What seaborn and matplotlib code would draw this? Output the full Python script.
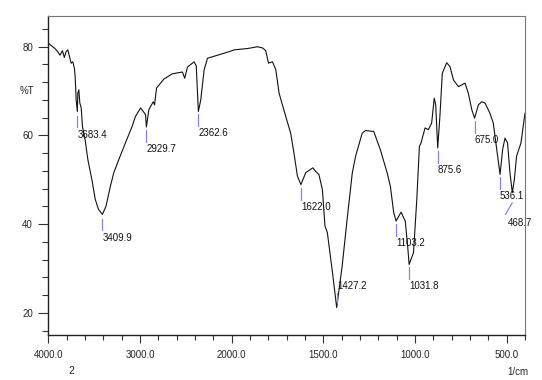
import numpy as np
import matplotlib
matplotlib.use("Agg")
import matplotlib.pyplot as plt
import matplotlib.transforms as mtransforms
from matplotlib.ticker import FixedLocator, NullFormatter
from matplotlib import font_manager
import seaborn as sns
import pandas as pd

# =========================
# Datos leidos del espectro (numero de onda en 1/cm, %T)
# =========================
wavenumber = [
    4000, 3927, 3897, 3872, 3846, 3825, 3806, 3787, 3773, 3751, 3732, 3715,
    3707, 3696, 3683, 3678, 3667, 3656, 3641, 3627, 3598, 3568, 3524, 3488,
    3452, 3410, 3371, 3323, 3287, 3232, 3159, 3086, 3049, 2993, 2939, 2930,
    2903, 2885, 2855, 2841, 2819, 2739, 2647, 2537, 2512, 2482, 2410, 2386,
    2363, 2337, 2300, 2263, 2153, 2026, 1986, 1913, 1859, 1830, 1814, 1799,
    1777, 1759, 1741, 1705, 1678, 1660, 1641, 1622, 1596, 1557, 1542, 1524,
    1505, 1491, 1478, 1450, 1427, 1397, 1370, 1342, 1324, 1288, 1270, 1225,
    1189, 1152, 1134, 1116, 1103, 1076, 1053, 1040, 1032, 1008, 990, 976,
    967, 945, 927, 909, 895, 887, 876, 864, 851, 827, 809, 790, 763, 727,
    709, 690, 675, 654, 636, 618, 591, 573, 554, 536, 522, 509, 495, 482,
    469, 458, 446, 422, 400,
]
transmittance = [
    80.8, 79.6, 78.9, 78.1, 79.1, 77.6, 78.9, 79.3, 78.1, 76.3, 76.6, 75.1,
    73.3, 68.0, 65.4, 69.5, 70.3, 67.3, 66.2, 62.0, 59.0, 54.5, 50.0, 45.6,
    43.3, 42.2, 44.0, 48.5, 51.5, 54.5, 58.3, 62.0, 64.3, 66.2, 64.7, 61.9,
    65.8, 66.5, 67.6, 66.9, 70.7, 72.7, 73.9, 74.3, 72.9, 75.4, 76.6, 75.7,
    65.4, 68.0, 74.8, 77.4, 78.1, 78.9, 79.3, 79.6, 80.0, 79.7, 79.1, 76.3,
    76.6, 74.8, 69.5, 64.3, 60.5, 56.0, 50.8, 48.9, 51.6, 52.7, 51.9, 51.2,
    47.8, 39.6, 38.1, 29.1, 21.2, 30.6, 41.1, 51.5, 55.3, 60.5, 61.1, 60.9,
    56.8, 51.6, 48.5, 42.6, 40.7, 42.7, 40.7, 35.1, 30.9, 33.6, 45.6, 57.5,
    58.3, 61.7, 61.3, 62.8, 68.4, 66.9, 57.2, 64.3, 74.0, 76.4, 75.5, 72.5,
    71.0, 71.8, 69.5, 65.8, 63.9, 66.9, 67.6, 67.3, 65.0, 62.8, 56.8, 51.2,
    56.8, 59.4, 58.3, 51.6, 47.1, 50.0, 55.3, 58.3, 65.0,
]

# Picos marcados
peak_labels = ["3683.4", "3409.9", "2929.7", "2362.6", "1622.0", "1427.2",
               "1103.2", "1031.8", "875.6", "675.0", "536.1", "468.7"]
peak_wn = [3683, 3410, 2930, 2363, 1622, 1427, 1103, 1032, 876, 675, 536, 469]
peak_t = [65.4, 42.2, 61.9, 65.4, 48.9, 21.2, 40.7, 30.9, 57.2, 63.9, 51.2, 47.1]

x_major = [4000, 3000, 2000, 1500, 1000, 500]
x_major_labels = ["4000.0", "3000.0", "2000.0", "1500.0", "1000.0", "500.0"]
y_major = [20, 40, 60, 80]
y_major_labels = ["20", "40", "60", "80"]

df = pd.DataFrame({"wn": wavenumber, "T": transmittance})

# =========================
# Estilo
# =========================
sns.set_theme(style="ticks")
names = {f.name for f in font_manager.fontManager.ttflist}
fam = ["Liberation Sans Narrow"] if "Liberation Sans Narrow" in names else ["Liberation Sans"]
plt.rcParams["font.family"] = fam + ["DejaVu Sans"]
FS = 7


# escala del eje x: por debajo de 2000 1/cm el doble de ancha
def fwd(x):
    x = np.asarray(x, dtype=float)
    return np.where(x < 2000, x, 2000 + (x - 2000) / 2.0)


def inv(s):
    s = np.asarray(s, dtype=float)
    return np.where(s < 2000, s, 2000 + (s - 2000) * 2.0)


fig = plt.figure(figsize=(5.42, 3.80), dpi=100)
ax = fig.add_axes([0.0891, 0.1184, 0.8795, 0.8403])
ax.set_xscale("function", functions=(fwd, inv))

sns.lineplot(data=df, x="wn", y="T", ax=ax, color="#111111", linewidth=0.8,
             estimator=None, sort=False)

ax.set_xlim(4000, 400)
ax.set_ylim(15, 87)
ax.set_xlabel("")
ax.set_ylabel("")

# ticks
x_minor = list(range(4000, 1999, -200)) + list(range(1900, 399, -100))
ax.xaxis.set_major_locator(FixedLocator(x_major))
ax.xaxis.set_minor_locator(FixedLocator(x_minor))
ax.set_xticklabels(x_major_labels, fontsize=FS)
ax.xaxis.set_minor_formatter(NullFormatter())
ax.yaxis.set_major_locator(FixedLocator(y_major))
ax.yaxis.set_minor_locator(FixedLocator(list(range(16, 87, 4))))
ax.set_yticklabels(y_major_labels, fontsize=FS)
ax.yaxis.set_minor_formatter(NullFormatter())
ax.tick_params(axis="y", which="major", direction="out", length=7, width=0.8,
               color="#333333", pad=4)
ax.tick_params(axis="y", which="minor", direction="out", length=4.5, width=0.8,
               color="#333333")
ax.tick_params(axis="x", which="major", direction="out", length=6, width=0.8,
               color="#333333", pad=5)
ax.tick_params(axis="x", which="minor", direction="out", length=3.5, width=0.8,
               color="#333333")

for side in ["left", "bottom"]:
    ax.spines[side].set_color("#222222")
    ax.spines[side].set_linewidth(1.0)
for side in ["top", "right"]:
    ax.spines[side].set_visible(True)
    ax.spines[side].set_color("#777777")
    ax.spines[side].set_linewidth(0.8)

# =========================
# Etiquetas de picos (desplazamientos en pixeles)
# =========================
mark_color = "#8080ff"
for lab, wn, t in zip(peak_labels, peak_wn, peak_t):
    if lab == "1427.2":
        y0, y1, tx, ty, dx0 = -15, -5, 1, -22, 0
    elif lab == "468.7":
        y0, y1, tx, ty, dx0 = 10, 22, -5, 30, -7
    elif lab in ("3683.4", "3409.9"):
        y0, y1, tx, ty, dx0 = 5, 16, 0, 24, 0
    else:
        y0, y1, tx, ty, dx0 = 3, 15, 0, 22, 0
    tr0 = mtransforms.offset_copy(ax.transData, fig=fig, x=0, y=-y0, units="dots")
    tr1 = mtransforms.offset_copy(ax.transData, fig=fig, x=dx0, y=-y1, units="dots")
    p0 = tr0.transform((wn, t))
    p1 = tr1.transform((wn, t))
    ax.plot([p0[0], p1[0]], [p0[1], p1[1]], transform=None, color=mark_color,
            linewidth=0.9)
    trt = mtransforms.offset_copy(ax.transData, fig=fig, x=tx, y=-ty, units="dots")
    ax.text(wn, t, lab, transform=trt, fontsize=FS, ha="left", va="center",
            color="#111111")

fig.text(27 / 542, 1 - 91 / 380, "%T", fontsize=FS, ha="center", va="center")
fig.text(71 / 542, 1 - 371 / 380, "2", fontsize=FS + 0.5, ha="center", va="center")
fig.text(518 / 542, 1 - 372 / 380, "1/cm", fontsize=FS, ha="center", va="center")

fig.savefig("out.png", dpi=100)
